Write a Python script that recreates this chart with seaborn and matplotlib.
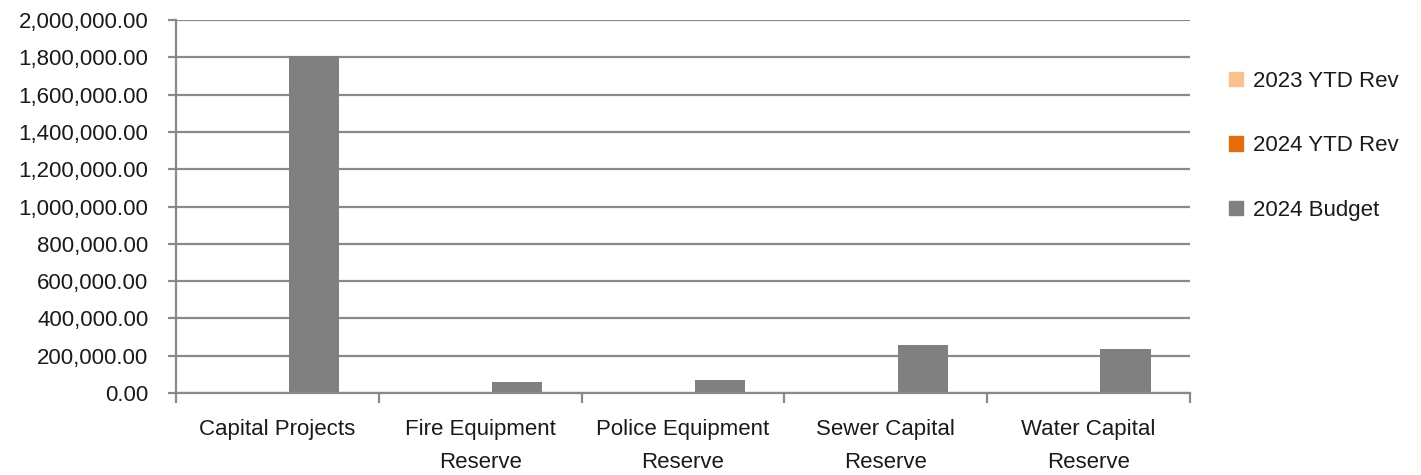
import matplotlib
matplotlib.use("Agg")
import matplotlib.pyplot as plt
import matplotlib.ticker as mticker
import seaborn as sns
import pandas as pd
import numpy as np

# Reserve fund revenue vs budget
funds = ["Capital Projects", "Fire Equipment\nReserve", "Police Equipment\nReserve",
         "Sewer Capital\nReserve", "Water Capital\nReserve"]
series = ["2023 YTD Rev", "2024 YTD Rev", "2024 Budget"]
rev_2023 = [0, 0, 0, 0, 0]
rev_2024 = [0, 0, 0, 0, 0]
budget_2024 = [1807000, 57000, 70000, 259000, 238000]
colors = ["#FAC090", "#E46C0A", "#808080"]

df = pd.DataFrame({
    "Fund": funds * 3,
    "Series": [s for s in series for _ in funds],
    "Amount": rev_2023 + rev_2024 + budget_2024,
})

sns.set_style("white")
plt.rcParams["font.family"] = ["Liberation Sans", "DejaVu Sans"]

fig = plt.figure(figsize=(14.21, 4.75), dpi=100)
ax = fig.add_axes([0.1239, 0.1726, 0.8374 - 0.1239, 0.9579 - 0.1726])

grid_c = "#898989"
sns.barplot(data=df, x="Fund", y="Amount", hue="Series", hue_order=series,
            palette=colors, width=0.547, ax=ax, legend=False,
            saturation=1, linewidth=0)

# widen bars around their dodged centres
for p in ax.patches:
    c = p.get_x() + p.get_width() / 2
    p.set_width(0.247)
    p.set_x(c - 0.247 / 2)

ax.set_xlim(-0.5, len(funds) - 0.5)
ax.set_ylim(0, 2000000)
ax.yaxis.set_major_locator(mticker.MultipleLocator(200000))
ax.yaxis.set_major_formatter(mticker.FuncFormatter(lambda v, _: f"{v:,.2f}"))
ax.grid(axis="y", color=grid_c, linewidth=1.6)
ax.set_axisbelow(True)
ax.set_xlabel("")
ax.set_ylabel("")

for side in ["top", "right"]:
    ax.spines[side].set_visible(False)
for side in ["left", "bottom"]:
    ax.spines[side].set_color(grid_c)
    ax.spines[side].set_linewidth(1.6)

ax.tick_params(axis="y", which="major", length=6, width=1.6, color=grid_c,
               labelsize=16, pad=14, left=True, labelcolor="#1a1a1a")
ax.tick_params(axis="x", which="major", length=0, labelsize=16, pad=19,
               labelcolor="#1a1a1a")
ax.set_xticks(np.arange(-0.5, len(funds)), minor=True)
ax.tick_params(axis="x", which="minor", length=7, width=1.6, color=grid_c, bottom=True)
for lab in ax.get_xticklabels():
    lab.set_linespacing(1.75)

handles = [plt.Rectangle((0, 0), 1, 1, color=c) for c in colors]
fig.legend(handles, series, loc="upper left", bbox_to_anchor=(0.851, 0.893),
           frameon=False, fontsize=16, handlelength=0.6, handleheight=0.6,
           handletextpad=0.45, labelspacing=1.96, labelcolor="#1a1a1a")

fig.savefig("out.png", dpi=100)
